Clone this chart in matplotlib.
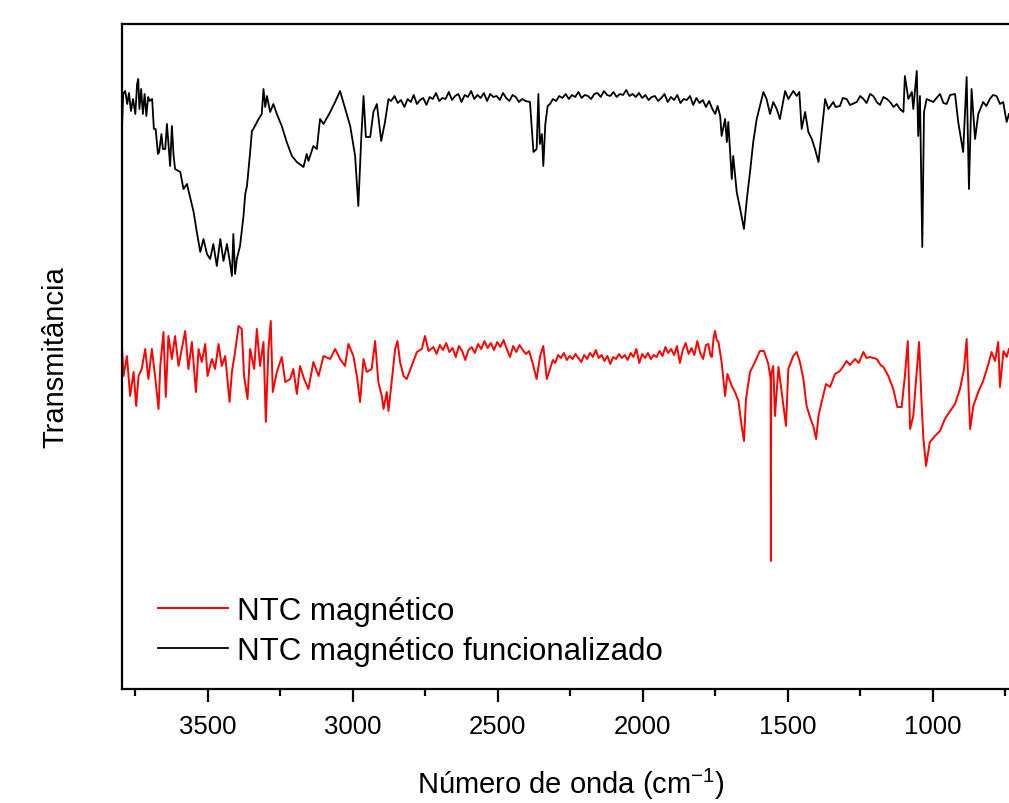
import matplotlib
matplotlib.use("Agg")
import matplotlib.pyplot as plt
from matplotlib.ticker import MultipleLocator

plt.rcParams['font.family'] = ['Liberation Sans', 'DejaVu Sans']
plt.rcParams['mathtext.default'] = 'regular'

# NTC magnético (vermelho): (número de onda cm-1, transmitância u.a.)
ntc = [(3796, 34.3), (3791, 31.3), (3779, 33.3), (3768, 29.3), (3756, 31.7),
       (3747, 28.3), (3739, 31.3), (3728, 32.0), (3716, 34.0), (3705, 31.0),
       (3693, 34.0), (3682, 31.3), (3670, 28.0), (3664, 32.3), (3653, 35.7),
       (3645, 29.2), (3636, 35.3), (3624, 33.0), (3613, 35.3), (3601, 32.3),
       (3590, 34.0), (3578, 35.8), (3567, 32.0), (3555, 34.7), (3541, 29.7),
       (3532, 34.0), (3521, 32.7), (3509, 34.5), (3501, 31.3), (3486, 33.0),
       (3475, 32.0), (3463, 34.5), (3452, 32.3), (3440, 33.3), (3425, 28.7),
       (3417, 31.7), (3406, 33.7), (3394, 36.3), (3383, 36.0), (3375, 31.3),
       (3363, 29.0), (3354, 34.0), (3340, 32.0), (3331, 36.0), (3320, 32.3),
       (3308, 34.7), (3300, 26.7), (3291, 34.0), (3283, 36.8), (3276, 29.7),
       (3262, 31.7), (3245, 33.2), (3233, 30.7), (3216, 31.0), (3205, 32.0),
       (3193, 29.5), (3182, 32.3), (3168, 31.0), (3153, 30.0), (3136, 32.7),
       (3118, 31.3), (3101, 33.3), (3078, 33.0), (3061, 34.0), (3044, 33.0),
       (3027, 32.3), (3015, 34.5), (2998, 33.3), (2986, 31.3), (2975, 28.7),
       (2963, 33.0), (2952, 31.7), (2935, 32.0), (2923, 34.8), (2912, 30.7),
       (2900, 29.3), (2894, 28.0), (2883, 29.7), (2877, 27.8), (2866, 30.7),
       (2854, 34.0), (2846, 34.8), (2837, 32.7), (2825, 31.3), (2814, 31.0),
       (2797, 32.3), (2779, 33.7), (2762, 34.0), (2751, 35.3), (2739, 33.8),
       (2722, 34.2), (2711, 33.5), (2700, 34.4), (2689, 33.9), (2678, 34.6),
       (2667, 33.7), (2656, 34.1), (2645, 33.2), (2634, 34.3), (2623, 33.8),
       (2612, 32.9), (2601, 33.9), (2590, 34.2), (2579, 33.6), (2568, 34.5),
       (2557, 34.0), (2546, 34.8), (2535, 34.1), (2524, 34.6), (2513, 33.9),
       (2502, 34.7), (2491, 34.2), (2480, 34.9), (2469, 34.0), (2458, 33.2),
       (2447, 34.3), (2436, 33.7), (2425, 34.4), (2414, 33.9), (2403, 33.5),
       (2392, 33.8), (2380, 32.6), (2366, 31.0), (2354, 33.3), (2343, 34.3),
       (2331, 31.0), (2320, 32.0), (2310, 32.9), (2302, 32.6), (2292, 33.4),
       (2282, 33.1), (2272, 33.6), (2262, 32.9), (2252, 33.3), (2242, 33.0),
       (2232, 33.5), (2222, 33.1), (2212, 32.7), (2202, 33.4), (2192, 33.0),
       (2182, 33.6), (2172, 33.2), (2162, 33.9), (2152, 33.1), (2142, 33.4),
       (2132, 32.8), (2122, 33.3), (2112, 32.5), (2102, 33.2), (2092, 33.0),
       (2082, 33.5), (2072, 33.1), (2062, 33.4), (2052, 32.9), (2042, 33.6),
       (2032, 33.2), (2022, 34.0), (2012, 32.6), (2002, 33.5), (1992, 33.1),
       (1982, 33.6), (1972, 33.0), (1962, 33.4), (1952, 33.2), (1942, 33.8),
       (1932, 33.3), (1922, 34.2), (1912, 33.6), (1902, 34.0), (1892, 33.4),
       (1882, 34.3), (1872, 32.6), (1862, 33.9), (1852, 34.6), (1842, 33.5),
       (1832, 34.1), (1822, 33.4), (1812, 34.8), (1802, 33.6), (1792, 33.0),
       (1782, 34.4), (1774, 34.5), (1767, 33.4), (1762, 33.2), (1756, 35.0),
       (1751, 35.8), (1745, 34.9), (1739, 34.7), (1728, 32.7), (1716, 29.3),
       (1708, 31.5), (1693, 30.3), (1682, 29.7), (1670, 28.8), (1659, 26.3),
       (1651, 24.8), (1644, 29.0), (1630, 31.7), (1613, 32.7), (1596, 33.8),
       (1582, 33.8), (1567, 32.5), (1559, 31.0), (1558, 12.8), (1557, 31.5),
       (1550, 32.3), (1544, 27.3), (1532, 32.2), (1521, 29.7), (1506, 26.3),
       (1498, 32.0), (1481, 33.3), (1469, 33.7), (1458, 32.7), (1446, 31.0),
       (1435, 28.3), (1421, 27.0), (1412, 26.3), (1402, 25.0), (1394, 27.3),
       (1383, 28.7), (1368, 30.5), (1354, 30.2), (1337, 31.5), (1320, 31.8),
       (1310, 32.2), (1297, 32.8), (1285, 32.4), (1268, 33.0), (1255, 32.6),
       (1239, 33.7), (1228, 33.1), (1216, 33.2), (1193, 33.0), (1180, 32.4),
       (1170, 32.2), (1153, 31.3), (1136, 30.0), (1122, 28.2), (1107, 28.2),
       (1096, 31.3), (1086, 34.8), (1078, 26.0), (1067, 27.3), (1058, 30.7),
       (1047, 34.7), (1038, 28.3), (1032, 25.0), (1023, 22.3), (1010, 24.7),
       (992, 25.3), (975, 25.8), (958, 27.0), (940, 27.8), (923, 28.5),
       (906, 30.0), (892, 32.0), (883, 35.0), (871, 26.0), (860, 28.3),
       (843, 29.7), (826, 30.8), (808, 32.5), (797, 33.7), (785, 32.8),
       (774, 34.7), (768, 30.2), (756, 33.8), (745, 33.2), (737, 34.0)]

# NTC magnético funcionalizado (preto)
func = [(3796, 56.0), (3792, 59.5), (3785, 59.8), (3778, 58.5), (3772, 59.6),
        (3765, 57.8), (3758, 59.0), (3750, 57.5), (3744, 60.5), (3740, 61.0),
        (3736, 58.0), (3730, 60.0), (3724, 57.5), (3718, 59.5), (3712, 57.3),
        (3706, 59.2), (3700, 58.8), (3692, 59.0), (3686, 56.0), (3680, 56.0),
        (3672, 53.5), (3668, 53.7), (3660, 55.5), (3655, 54.0), (3647, 54.0),
        (3641, 56.5), (3630, 52.3), (3624, 56.3), (3618, 53.3), (3613, 52.0),
        (3595, 51.7), (3584, 50.0), (3572, 50.5), (3549, 47.7), (3538, 45.7),
        (3526, 43.7), (3515, 45.0), (3503, 43.5), (3492, 43.0), (3481, 44.5),
        (3469, 42.3), (3457, 45.0), (3446, 42.8), (3434, 44.5), (3423, 42.5),
        (3417, 41.3), (3412, 45.5), (3406, 41.5), (3400, 43.0), (3389, 44.3),
        (3377, 47.3), (3371, 49.5), (3365, 50.3), (3354, 53.7), (3348, 55.8),
        (3343, 56.0), (3325, 57.0), (3314, 57.5), (3308, 60.0), (3302, 58.2),
        (3296, 59.3), (3285, 57.7), (3274, 58.5), (3262, 57.5), (3245, 56.3),
        (3228, 54.7), (3210, 53.3), (3193, 52.7), (3170, 52.2), (3159, 53.5),
        (3153, 52.8), (3136, 54.3), (3124, 54.0), (3113, 57.0), (3101, 56.5),
        (3078, 57.7), (3061, 58.7), (3044, 59.8), (3026, 58.0), (3009, 56.3),
        (2992, 53.3), (2981, 48.3), (2971, 55.0), (2963, 59.3), (2955, 55.2),
        (2940, 55.2), (2929, 57.7), (2917, 58.5), (2902, 54.8), (2889, 56.7),
        (2877, 59.0), (2868, 58.8), (2856, 59.3), (2845, 58.6), (2834, 58.9),
        (2822, 58.2), (2811, 59.0), (2800, 58.7), (2790, 59.4), (2779, 58.5),
        (2768, 58.9), (2757, 59.1), (2746, 58.4), (2735, 59.2), (2724, 59.0),
        (2713, 59.6), (2702, 58.8), (2691, 59.1), (2680, 59.0), (2669, 59.7),
        (2658, 58.9), (2647, 59.3), (2636, 59.5), (2625, 58.7), (2614, 59.4),
        (2603, 59.2), (2592, 59.8), (2581, 59.0), (2570, 59.4), (2559, 59.1),
        (2548, 59.6), (2537, 58.8), (2526, 59.5), (2515, 59.2), (2504, 59.3),
        (2493, 58.9), (2482, 59.6), (2471, 59.1), (2460, 58.8), (2449, 59.4),
        (2438, 59.2), (2427, 58.7), (2416, 59.0), (2404, 58.8), (2389, 58.7),
        (2377, 53.7), (2366, 54.0), (2360, 59.5), (2355, 54.5), (2348, 55.5),
        (2343, 52.3), (2336, 56.5), (2328, 58.3), (2320, 58.5), (2310, 59.0),
        (2299, 58.8), (2288, 59.3), (2277, 59.1), (2266, 59.5), (2255, 59.0),
        (2244, 59.4), (2233, 59.2), (2222, 59.7), (2211, 59.1), (2200, 59.4),
        (2189, 59.3), (2178, 59.0), (2167, 59.5), (2156, 59.6), (2145, 59.2),
        (2134, 59.8), (2123, 59.4), (2112, 59.3), (2101, 59.7), (2090, 59.2),
        (2079, 59.5), (2068, 59.4), (2057, 59.9), (2046, 59.3), (2035, 59.5),
        (2024, 59.2), (2013, 59.6), (2002, 59.1), (1991, 59.4), (1980, 58.9),
        (1969, 59.2), (1958, 59.3), (1947, 58.8), (1936, 59.1), (1925, 59.5),
        (1914, 58.7), (1903, 59.2), (1892, 58.9), (1881, 59.4), (1870, 58.6),
        (1859, 59.0), (1848, 58.9), (1837, 59.3), (1826, 58.4), (1815, 59.1),
        (1804, 58.6), (1793, 58.9), (1782, 58.2), (1771, 58.8), (1760, 58.0),
        (1750, 57.5), (1742, 58.3), (1733, 57.3), (1728, 55.3), (1716, 57.0),
        (1710, 54.7), (1705, 56.7), (1693, 51.0), (1688, 53.3), (1676, 49.7),
        (1664, 48.0), (1651, 46.0), (1641, 49.0), (1630, 51.7), (1619, 54.7),
        (1607, 57.0), (1596, 58.3), (1584, 59.7), (1573, 59.0), (1561, 57.5),
        (1550, 58.7), (1538, 58.0), (1527, 57.0), (1509, 59.8), (1498, 59.0),
        (1481, 59.8), (1469, 59.3), (1460, 59.7), (1452, 56.0), (1440, 57.7),
        (1429, 55.7), (1417, 55.0), (1406, 54.0), (1394, 52.7), (1383, 55.7),
        (1371, 59.0), (1360, 58.0), (1343, 58.7), (1335, 58.2), (1320, 58.3),
        (1310, 59.1), (1297, 59.0), (1285, 58.4), (1262, 58.7), (1250, 59.3),
        (1239, 59.0), (1228, 58.6), (1216, 59.5), (1205, 59.3), (1193, 58.7),
        (1182, 58.4), (1170, 59.2), (1158, 59.0), (1147, 58.7), (1135, 58.2),
        (1124, 58.5), (1113, 58.0), (1101, 57.7), (1096, 61.3), (1084, 59.0),
        (1072, 59.7), (1067, 58.0), (1055, 61.8), (1050, 55.3), (1044, 59.3),
        (1036, 44.2), (1030, 57.7), (1021, 59.0), (998, 58.7), (987, 59.1),
        (975, 59.5), (963, 58.6), (952, 58.5), (940, 59.4), (923, 59.5),
        (912, 56.7), (895, 53.7), (883, 61.2), (875, 50.0), (866, 60.0),
        (854, 55.0), (843, 57.5), (826, 58.7), (815, 58.3), (803, 59.0),
        (792, 59.4), (780, 59.3), (768, 58.5), (757, 58.7), (745, 56.7),
        (737, 57.5)]

onda_ntc, trans_ntc = zip(*ntc)
onda_func, trans_func = zip(*func)

fig = plt.figure(figsize=(10.09, 8.04), dpi=100)
# o eixo continua além da borda direita (imagem original recortada)
ax = fig.add_axes([122 / 1009, 114 / 804, 897.7 / 1009, 665 / 804])

ax.plot(onda_ntc, trans_ntc, color='#ff0000', lw=1.4, label='NTC magnético')
ax.plot(onda_func, trans_func, color='black', lw=1.3,
        label='NTC magnético funcionalizado')

ax.set_xlim(3796, 700)
ax.set_ylim(0, 66.5)
ax.set_yticks([])
ax.xaxis.set_major_locator(MultipleLocator(500))
ax.xaxis.set_minor_locator(MultipleLocator(250))
ax.tick_params(axis='x', which='major', direction='out', length=9, width=1.6,
               labelsize=18.5, pad=9)
ax.tick_params(axis='x', which='minor', direction='out', length=5, width=1.6)
for s in ax.spines.values():
    s.set_linewidth(1.6)

ax.set_xlabel('Número de onda (cm$^{-1}$)', fontsize=21, labelpad=20)
ax.set_ylabel('Transmitância', fontsize=21, labelpad=38)

ax.legend(loc='upper left', bbox_to_anchor=(0.026, 0.159), frameon=False,
          fontsize=22.5, handlelength=2.24, handletextpad=0.29,
          labelspacing=0.34, borderaxespad=0)

fig.savefig('out.png', dpi=100)
